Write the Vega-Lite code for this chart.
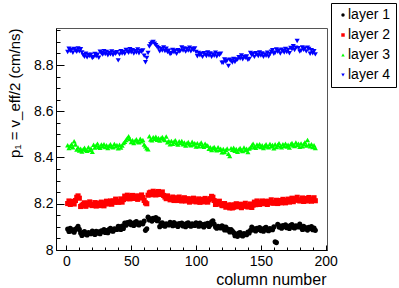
{
  "$schema": "https://vega.github.io/schema/vega-lite/v6.json",
  "width": 271,
  "height": 222,
  "autosize": {"type": "none"},
  "padding": {"left": 56, "top": 28, "right": 72, "bottom": 38},
  "background": "white",
  "config": {
    "font": "Liberation Sans",
    "view": {"stroke": "#555555", "strokeWidth": 1},
    "axis": {"grid": false, "domainColor": "#000000", "tickColor": "#000000", "labelColor": "#000000", "titleColor": "#000000", "labelFont": "Liberation Sans", "titleFont": "Liberation Sans", "titleFontWeight": "normal"}
  },
  "datasets": {
    "pts": [
      {"c":1,"s":"layer 1","p":8.091},{"c":2,"s":"layer 1","p":8.080},{"c":3,"s":"layer 1","p":8.094},{"c":4,"s":"layer 1","p":8.082},{"c":5,"s":"layer 1","p":8.087},{"c":6,"s":"layer 1","p":8.077},{"c":7,"s":"layer 1","p":8.089},{"c":8,"s":"layer 1","p":8.094},{"c":9,"s":"layer 1","p":8.102},{"c":10,"s":"layer 1","p":8.089},
      {"c":11,"s":"layer 1","p":8.073},{"c":12,"s":"layer 1","p":8.063},{"c":13,"s":"layer 1","p":8.077},{"c":14,"s":"layer 1","p":8.080},{"c":15,"s":"layer 1","p":8.068},{"c":16,"s":"layer 1","p":8.065},{"c":17,"s":"layer 1","p":8.075},{"c":18,"s":"layer 1","p":8.072},{"c":19,"s":"layer 1","p":8.070},{"c":20,"s":"layer 1","p":8.082},
      {"c":21,"s":"layer 1","p":8.078},{"c":22,"s":"layer 1","p":8.067},{"c":23,"s":"layer 1","p":8.081},{"c":24,"s":"layer 1","p":8.073},{"c":25,"s":"layer 1","p":8.079},{"c":26,"s":"layer 1","p":8.070},{"c":27,"s":"layer 1","p":8.083},{"c":28,"s":"layer 1","p":8.079},{"c":29,"s":"layer 1","p":8.088},{"c":30,"s":"layer 1","p":8.076},
      {"c":31,"s":"layer 1","p":8.084},{"c":32,"s":"layer 1","p":8.075},{"c":33,"s":"layer 1","p":8.090},{"c":34,"s":"layer 1","p":8.094},{"c":35,"s":"layer 1","p":8.083},{"c":36,"s":"layer 1","p":8.081},{"c":37,"s":"layer 1","p":8.092},{"c":38,"s":"layer 1","p":8.090},{"c":39,"s":"layer 1","p":8.089},{"c":40,"s":"layer 1","p":8.102},
      {"c":41,"s":"layer 1","p":8.099},{"c":42,"s":"layer 1","p":8.089},{"c":43,"s":"layer 1","p":8.104},{"c":44,"s":"layer 1","p":8.093},{"c":45,"s":"layer 1","p":8.117},{"c":46,"s":"layer 1","p":8.107},{"c":47,"s":"layer 1","p":8.119},{"c":48,"s":"layer 1","p":8.114},{"c":49,"s":"layer 1","p":8.122},{"c":50,"s":"layer 1","p":8.109},
      {"c":51,"s":"layer 1","p":8.116},{"c":52,"s":"layer 1","p":8.106},{"c":53,"s":"layer 1","p":8.120},{"c":54,"s":"layer 1","p":8.123},{"c":55,"s":"layer 1","p":8.111},{"c":56,"s":"layer 1","p":8.108},{"c":57,"s":"layer 1","p":8.118},{"c":58,"s":"layer 1","p":8.115},{"c":59,"s":"layer 1","p":8.113},{"c":60,"s":"layer 1","p":8.125},
      {"c":61,"s":"layer 1","p":8.085},{"c":62,"s":"layer 1","p":8.092},{"c":63,"s":"layer 1","p":8.142},{"c":64,"s":"layer 1","p":8.130},{"c":65,"s":"layer 1","p":8.135},{"c":66,"s":"layer 1","p":8.125},{"c":67,"s":"layer 1","p":8.137},{"c":68,"s":"layer 1","p":8.132},{"c":69,"s":"layer 1","p":8.140},{"c":70,"s":"layer 1","p":8.127},
      {"c":71,"s":"layer 1","p":8.134},{"c":72,"s":"layer 1","p":8.101},{"c":73,"s":"layer 1","p":8.115},{"c":74,"s":"layer 1","p":8.118},{"c":75,"s":"layer 1","p":8.106},{"c":76,"s":"layer 1","p":8.103},{"c":77,"s":"layer 1","p":8.113},{"c":78,"s":"layer 1","p":8.110},{"c":79,"s":"layer 1","p":8.108},{"c":80,"s":"layer 1","p":8.120},
      {"c":81,"s":"layer 1","p":8.116},{"c":82,"s":"layer 1","p":8.105},{"c":83,"s":"layer 1","p":8.119},{"c":84,"s":"layer 1","p":8.107},{"c":85,"s":"layer 1","p":8.112},{"c":86,"s":"layer 1","p":8.102},{"c":87,"s":"layer 1","p":8.114},{"c":88,"s":"layer 1","p":8.109},{"c":89,"s":"layer 1","p":8.117},{"c":90,"s":"layer 1","p":8.104},
      {"c":91,"s":"layer 1","p":8.111},{"c":92,"s":"layer 1","p":8.101},{"c":93,"s":"layer 1","p":8.115},{"c":94,"s":"layer 1","p":8.118},{"c":95,"s":"layer 1","p":8.106},{"c":96,"s":"layer 1","p":8.103},{"c":97,"s":"layer 1","p":8.113},{"c":98,"s":"layer 1","p":8.108},{"c":99,"s":"layer 1","p":8.106},{"c":100,"s":"layer 1","p":8.118},
      {"c":101,"s":"layer 1","p":8.114},{"c":102,"s":"layer 1","p":8.103},{"c":103,"s":"layer 1","p":8.117},{"c":104,"s":"layer 1","p":8.105},{"c":105,"s":"layer 1","p":8.110},{"c":106,"s":"layer 1","p":8.100},{"c":107,"s":"layer 1","p":8.112},{"c":108,"s":"layer 1","p":8.107},{"c":109,"s":"layer 1","p":8.115},{"c":110,"s":"layer 1","p":8.102},
      {"c":111,"s":"layer 1","p":8.109},{"c":112,"s":"layer 1","p":8.122},{"c":113,"s":"layer 1","p":8.126},{"c":114,"s":"layer 1","p":8.112},{"c":115,"s":"layer 1","p":8.099},{"c":116,"s":"layer 1","p":8.094},{"c":117,"s":"layer 1","p":8.102},{"c":118,"s":"layer 1","p":8.098},{"c":119,"s":"layer 1","p":8.095},{"c":120,"s":"layer 1","p":8.105},
      {"c":121,"s":"layer 1","p":8.100},{"c":122,"s":"layer 1","p":8.087},{"c":123,"s":"layer 1","p":8.099},{"c":124,"s":"layer 1","p":8.086},{"c":125,"s":"layer 1","p":8.089},{"c":126,"s":"layer 1","p":8.078},{"c":127,"s":"layer 1","p":8.088},{"c":128,"s":"layer 1","p":8.082},{"c":129,"s":"layer 1","p":8.075},{"c":130,"s":"layer 1","p":8.062},
      {"c":131,"s":"layer 1","p":8.069},{"c":132,"s":"layer 1","p":8.059},{"c":133,"s":"layer 1","p":8.073},{"c":134,"s":"layer 1","p":8.076},{"c":135,"s":"layer 1","p":8.064},{"c":136,"s":"layer 1","p":8.061},{"c":137,"s":"layer 1","p":8.071},{"c":138,"s":"layer 1","p":8.068},{"c":139,"s":"layer 1","p":8.066},{"c":140,"s":"layer 1","p":8.078},
      {"c":141,"s":"layer 1","p":8.074},{"c":142,"s":"layer 1","p":8.085},{"c":143,"s":"layer 1","p":8.099},{"c":144,"s":"layer 1","p":8.087},{"c":145,"s":"layer 1","p":8.092},{"c":146,"s":"layer 1","p":8.082},{"c":147,"s":"layer 1","p":8.094},{"c":148,"s":"layer 1","p":8.089},{"c":149,"s":"layer 1","p":8.097},{"c":150,"s":"layer 1","p":8.084},
      {"c":151,"s":"layer 1","p":8.091},{"c":152,"s":"layer 1","p":8.081},{"c":153,"s":"layer 1","p":8.095},{"c":154,"s":"layer 1","p":8.098},{"c":155,"s":"layer 1","p":8.086},{"c":156,"s":"layer 1","p":8.083},{"c":157,"s":"layer 1","p":8.093},{"c":158,"s":"layer 1","p":8.090},{"c":159,"s":"layer 1","p":8.088},{"c":160,"s":"layer 1","p":8.100},
      {"c":161,"s":"layer 1","p":8.036},{"c":162,"s":"layer 1","p":8.032},{"c":163,"s":"layer 1","p":8.111},{"c":164,"s":"layer 1","p":8.099},{"c":165,"s":"layer 1","p":8.104},{"c":166,"s":"layer 1","p":8.094},{"c":167,"s":"layer 1","p":8.106},{"c":168,"s":"layer 1","p":8.101},{"c":169,"s":"layer 1","p":8.109},{"c":170,"s":"layer 1","p":8.096},
      {"c":171,"s":"layer 1","p":8.103},{"c":172,"s":"layer 1","p":8.093},{"c":173,"s":"layer 1","p":8.107},{"c":174,"s":"layer 1","p":8.110},{"c":175,"s":"layer 1","p":8.098},{"c":176,"s":"layer 1","p":8.095},{"c":177,"s":"layer 1","p":8.105},{"c":178,"s":"layer 1","p":8.102},{"c":179,"s":"layer 1","p":8.100},{"c":180,"s":"layer 1","p":8.112},
      {"c":181,"s":"layer 1","p":8.100},{"c":182,"s":"layer 1","p":8.089},{"c":183,"s":"layer 1","p":8.103},{"c":184,"s":"layer 1","p":8.091},{"c":185,"s":"layer 1","p":8.096},{"c":186,"s":"layer 1","p":8.086},{"c":187,"s":"layer 1","p":8.098},{"c":188,"s":"layer 1","p":8.093},{"c":189,"s":"layer 1","p":8.101},{"c":190,"s":"layer 1","p":8.088},
      {"c":191,"s":"layer 1","p":8.095},{"c":192,"s":"layer 1","p":8.085},

      {"c":1,"s":"layer 2","p":8.201},{"c":2,"s":"layer 2","p":8.212},{"c":3,"s":"layer 2","p":8.197},{"c":4,"s":"layer 2","p":8.207},{"c":5,"s":"layer 2","p":8.210},{"c":6,"s":"layer 2","p":8.199},{"c":7,"s":"layer 2","p":8.214},{"c":8,"s":"layer 2","p":8.228},{"c":9,"s":"layer 2","p":8.234},{"c":10,"s":"layer 2","p":8.224},
      {"c":11,"s":"layer 2","p":8.188},{"c":12,"s":"layer 2","p":8.193},{"c":13,"s":"layer 2","p":8.198},{"c":14,"s":"layer 2","p":8.204},{"c":15,"s":"layer 2","p":8.189},{"c":16,"s":"layer 2","p":8.202},{"c":17,"s":"layer 2","p":8.195},{"c":18,"s":"layer 2","p":8.208},{"c":19,"s":"layer 2","p":8.197},{"c":20,"s":"layer 2","p":8.192},
      {"c":21,"s":"layer 2","p":8.194},{"c":22,"s":"layer 2","p":8.205},{"c":23,"s":"layer 2","p":8.190},{"c":24,"s":"layer 2","p":8.200},{"c":25,"s":"layer 2","p":8.203},{"c":26,"s":"layer 2","p":8.192},{"c":27,"s":"layer 2","p":8.207},{"c":28,"s":"layer 2","p":8.196},{"c":29,"s":"layer 2","p":8.191},{"c":30,"s":"layer 2","p":8.201},
      {"c":31,"s":"layer 2","p":8.211},{"c":32,"s":"layer 2","p":8.199},{"c":33,"s":"layer 2","p":8.205},{"c":34,"s":"layer 2","p":8.212},{"c":35,"s":"layer 2","p":8.198},{"c":36,"s":"layer 2","p":8.212},{"c":37,"s":"layer 2","p":8.206},{"c":38,"s":"layer 2","p":8.220},{"c":39,"s":"layer 2","p":8.210},{"c":40,"s":"layer 2","p":8.206},
      {"c":41,"s":"layer 2","p":8.209},{"c":42,"s":"layer 2","p":8.221},{"c":43,"s":"layer 2","p":8.207},{"c":44,"s":"layer 2","p":8.218},{"c":45,"s":"layer 2","p":8.233},{"c":46,"s":"layer 2","p":8.222},{"c":47,"s":"layer 2","p":8.237},{"c":48,"s":"layer 2","p":8.226},{"c":49,"s":"layer 2","p":8.221},{"c":50,"s":"layer 2","p":8.231},
      {"c":51,"s":"layer 2","p":8.236},{"c":52,"s":"layer 2","p":8.223},{"c":53,"s":"layer 2","p":8.228},{"c":54,"s":"layer 2","p":8.234},{"c":55,"s":"layer 2","p":8.219},{"c":56,"s":"layer 2","p":8.232},{"c":57,"s":"layer 2","p":8.225},{"c":58,"s":"layer 2","p":8.238},{"c":59,"s":"layer 2","p":8.227},{"c":60,"s":"layer 2","p":8.214},
      {"c":61,"s":"layer 2","p":8.204},{"c":62,"s":"layer 2","p":8.200},{"c":63,"s":"layer 2","p":8.237},{"c":64,"s":"layer 2","p":8.247},{"c":65,"s":"layer 2","p":8.250},{"c":66,"s":"layer 2","p":8.239},{"c":67,"s":"layer 2","p":8.254},{"c":68,"s":"layer 2","p":8.243},{"c":69,"s":"layer 2","p":8.238},{"c":70,"s":"layer 2","p":8.248},
      {"c":71,"s":"layer 2","p":8.253},{"c":72,"s":"layer 2","p":8.240},{"c":73,"s":"layer 2","p":8.245},{"c":74,"s":"layer 2","p":8.251},{"c":75,"s":"layer 2","p":8.236},{"c":76,"s":"layer 2","p":8.229},{"c":77,"s":"layer 2","p":8.222},{"c":78,"s":"layer 2","p":8.234},{"c":79,"s":"layer 2","p":8.223},{"c":80,"s":"layer 2","p":8.217},
      {"c":81,"s":"layer 2","p":8.219},{"c":82,"s":"layer 2","p":8.229},{"c":83,"s":"layer 2","p":8.214},{"c":84,"s":"layer 2","p":8.223},{"c":85,"s":"layer 2","p":8.226},{"c":86,"s":"layer 2","p":8.214},{"c":87,"s":"layer 2","p":8.229},{"c":88,"s":"layer 2","p":8.217},{"c":89,"s":"layer 2","p":8.212},{"c":90,"s":"layer 2","p":8.221},
      {"c":91,"s":"layer 2","p":8.226},{"c":92,"s":"layer 2","p":8.212},{"c":93,"s":"layer 2","p":8.217},{"c":94,"s":"layer 2","p":8.222},{"c":95,"s":"layer 2","p":8.207},{"c":96,"s":"layer 2","p":8.218},{"c":97,"s":"layer 2","p":8.211},{"c":98,"s":"layer 2","p":8.224},{"c":99,"s":"layer 2","p":8.213},{"c":100,"s":"layer 2","p":8.208},
      {"c":101,"s":"layer 2","p":8.210},{"c":102,"s":"layer 2","p":8.221},{"c":103,"s":"layer 2","p":8.206},{"c":104,"s":"layer 2","p":8.216},{"c":105,"s":"layer 2","p":8.219},{"c":106,"s":"layer 2","p":8.208},{"c":107,"s":"layer 2","p":8.223},{"c":108,"s":"layer 2","p":8.212},{"c":109,"s":"layer 2","p":8.207},{"c":110,"s":"layer 2","p":8.217},
      {"c":111,"s":"layer 2","p":8.222},{"c":112,"s":"layer 2","p":8.232},{"c":113,"s":"layer 2","p":8.228},{"c":114,"s":"layer 2","p":8.214},{"c":115,"s":"layer 2","p":8.197},{"c":116,"s":"layer 2","p":8.209},{"c":117,"s":"layer 2","p":8.200},{"c":118,"s":"layer 2","p":8.211},{"c":119,"s":"layer 2","p":8.198},{"c":120,"s":"layer 2","p":8.192},
      {"c":121,"s":"layer 2","p":8.192},{"c":122,"s":"layer 2","p":8.201},{"c":123,"s":"layer 2","p":8.185},{"c":124,"s":"layer 2","p":8.193},{"c":125,"s":"layer 2","p":8.194},{"c":126,"s":"layer 2","p":8.182},{"c":127,"s":"layer 2","p":8.195},{"c":128,"s":"layer 2","p":8.182},{"c":129,"s":"layer 2","p":8.185},{"c":130,"s":"layer 2","p":8.195},
      {"c":131,"s":"layer 2","p":8.200},{"c":132,"s":"layer 2","p":8.187},{"c":133,"s":"layer 2","p":8.192},{"c":134,"s":"layer 2","p":8.198},{"c":135,"s":"layer 2","p":8.183},{"c":136,"s":"layer 2","p":8.196},{"c":137,"s":"layer 2","p":8.189},{"c":138,"s":"layer 2","p":8.202},{"c":139,"s":"layer 2","p":8.191},{"c":140,"s":"layer 2","p":8.186},
      {"c":141,"s":"layer 2","p":8.188},{"c":142,"s":"layer 2","p":8.199},{"c":143,"s":"layer 2","p":8.184},{"c":144,"s":"layer 2","p":8.194},{"c":145,"s":"layer 2","p":8.207},{"c":146,"s":"layer 2","p":8.196},{"c":147,"s":"layer 2","p":8.212},{"c":148,"s":"layer 2","p":8.201},{"c":149,"s":"layer 2","p":8.197},{"c":150,"s":"layer 2","p":8.207},
      {"c":151,"s":"layer 2","p":8.212},{"c":152,"s":"layer 2","p":8.200},{"c":153,"s":"layer 2","p":8.205},{"c":154,"s":"layer 2","p":8.211},{"c":155,"s":"layer 2","p":8.197},{"c":156,"s":"layer 2","p":8.210},{"c":157,"s":"layer 2","p":8.203},{"c":158,"s":"layer 2","p":8.217},{"c":159,"s":"layer 2","p":8.206},{"c":160,"s":"layer 2","p":8.202},
      {"c":161,"s":"layer 2","p":8.204},{"c":162,"s":"layer 2","p":8.215},{"c":163,"s":"layer 2","p":8.201},{"c":164,"s":"layer 2","p":8.211},{"c":165,"s":"layer 2","p":8.214},{"c":166,"s":"layer 2","p":8.204},{"c":167,"s":"layer 2","p":8.219},{"c":168,"s":"layer 2","p":8.208},{"c":169,"s":"layer 2","p":8.204},{"c":170,"s":"layer 2","p":8.214},
      {"c":171,"s":"layer 2","p":8.220},{"c":172,"s":"layer 2","p":8.207},{"c":173,"s":"layer 2","p":8.218},{"c":174,"s":"layer 2","p":8.224},{"c":175,"s":"layer 2","p":8.209},{"c":176,"s":"layer 2","p":8.222},{"c":177,"s":"layer 2","p":8.215},{"c":178,"s":"layer 2","p":8.228},{"c":179,"s":"layer 2","p":8.217},{"c":180,"s":"layer 2","p":8.212},
      {"c":181,"s":"layer 2","p":8.214},{"c":182,"s":"layer 2","p":8.225},{"c":183,"s":"layer 2","p":8.210},{"c":184,"s":"layer 2","p":8.220},{"c":185,"s":"layer 2","p":8.223},{"c":186,"s":"layer 2","p":8.212},{"c":187,"s":"layer 2","p":8.227},{"c":188,"s":"layer 2","p":8.216},{"c":189,"s":"layer 2","p":8.211},{"c":190,"s":"layer 2","p":8.221},
      {"c":191,"s":"layer 2","p":8.226},{"c":192,"s":"layer 2","p":8.213},

      {"c":1,"s":"layer 3","p":8.453},{"c":2,"s":"layer 3","p":8.441},{"c":3,"s":"layer 3","p":8.450},{"c":4,"s":"layer 3","p":8.458},{"c":5,"s":"layer 3","p":8.444},{"c":6,"s":"layer 3","p":8.470},{"c":7,"s":"layer 3","p":8.456},{"c":8,"s":"layer 3","p":8.434},{"c":9,"s":"layer 3","p":8.443},{"c":10,"s":"layer 3","p":8.430},
      {"c":11,"s":"layer 3","p":8.438},{"c":12,"s":"layer 3","p":8.426},{"c":13,"s":"layer 3","p":8.436},{"c":14,"s":"layer 3","p":8.442},{"c":15,"s":"layer 3","p":8.432},{"c":16,"s":"layer 3","p":8.429},{"c":17,"s":"layer 3","p":8.444},{"c":18,"s":"layer 3","p":8.433},{"c":19,"s":"layer 3","p":8.439},{"c":20,"s":"layer 3","p":8.425},
      {"c":21,"s":"layer 3","p":8.455},{"c":22,"s":"layer 3","p":8.443},{"c":23,"s":"layer 3","p":8.452},{"c":24,"s":"layer 3","p":8.460},{"c":25,"s":"layer 3","p":8.446},{"c":26,"s":"layer 3","p":8.442},{"c":27,"s":"layer 3","p":8.456},{"c":28,"s":"layer 3","p":8.449},{"c":29,"s":"layer 3","p":8.458},{"c":30,"s":"layer 3","p":8.445},
      {"c":31,"s":"layer 3","p":8.453},{"c":32,"s":"layer 3","p":8.441},{"c":33,"s":"layer 3","p":8.451},{"c":34,"s":"layer 3","p":8.457},{"c":35,"s":"layer 3","p":8.447},{"c":36,"s":"layer 3","p":8.444},{"c":37,"s":"layer 3","p":8.459},{"c":38,"s":"layer 3","p":8.448},{"c":39,"s":"layer 3","p":8.454},{"c":40,"s":"layer 3","p":8.440},
      {"c":41,"s":"layer 3","p":8.455},{"c":42,"s":"layer 3","p":8.443},{"c":43,"s":"layer 3","p":8.452},{"c":44,"s":"layer 3","p":8.462},{"c":45,"s":"layer 3","p":8.468},{"c":46,"s":"layer 3","p":8.476},{"c":47,"s":"layer 3","p":8.484},{"c":48,"s":"layer 3","p":8.492},{"c":49,"s":"layer 3","p":8.480},{"c":50,"s":"layer 3","p":8.467},
      {"c":51,"s":"layer 3","p":8.475},{"c":52,"s":"layer 3","p":8.463},{"c":53,"s":"layer 3","p":8.473},{"c":54,"s":"layer 3","p":8.479},{"c":55,"s":"layer 3","p":8.469},{"c":56,"s":"layer 3","p":8.466},{"c":57,"s":"layer 3","p":8.481},{"c":58,"s":"layer 3","p":8.470},{"c":59,"s":"layer 3","p":8.476},{"c":60,"s":"layer 3","p":8.456},
      {"c":61,"s":"layer 3","p":8.448},{"c":62,"s":"layer 3","p":8.440},{"c":63,"s":"layer 3","p":8.436},{"c":64,"s":"layer 3","p":8.492},{"c":65,"s":"layer 3","p":8.478},{"c":66,"s":"layer 3","p":8.474},{"c":67,"s":"layer 3","p":8.488},{"c":68,"s":"layer 3","p":8.481},{"c":69,"s":"layer 3","p":8.490},{"c":70,"s":"layer 3","p":8.477},
      {"c":71,"s":"layer 3","p":8.485},{"c":72,"s":"layer 3","p":8.473},{"c":73,"s":"layer 3","p":8.483},{"c":74,"s":"layer 3","p":8.489},{"c":75,"s":"layer 3","p":8.479},{"c":76,"s":"layer 3","p":8.476},{"c":77,"s":"layer 3","p":8.491},{"c":78,"s":"layer 3","p":8.466},{"c":79,"s":"layer 3","p":8.472},{"c":80,"s":"layer 3","p":8.457},
      {"c":81,"s":"layer 3","p":8.472},{"c":82,"s":"layer 3","p":8.459},{"c":83,"s":"layer 3","p":8.468},{"c":84,"s":"layer 3","p":8.475},{"c":85,"s":"layer 3","p":8.461},{"c":86,"s":"layer 3","p":8.456},{"c":87,"s":"layer 3","p":8.470},{"c":88,"s":"layer 3","p":8.462},{"c":89,"s":"layer 3","p":8.471},{"c":90,"s":"layer 3","p":8.457},
      {"c":91,"s":"layer 3","p":8.465},{"c":92,"s":"layer 3","p":8.452},{"c":93,"s":"layer 3","p":8.462},{"c":94,"s":"layer 3","p":8.467},{"c":95,"s":"layer 3","p":8.457},{"c":96,"s":"layer 3","p":8.453},{"c":97,"s":"layer 3","p":8.468},{"c":98,"s":"layer 3","p":8.456},{"c":99,"s":"layer 3","p":8.462},{"c":100,"s":"layer 3","p":8.447},
      {"c":101,"s":"layer 3","p":8.462},{"c":102,"s":"layer 3","p":8.449},{"c":103,"s":"layer 3","p":8.458},{"c":104,"s":"layer 3","p":8.465},{"c":105,"s":"layer 3","p":8.451},{"c":106,"s":"layer 3","p":8.446},{"c":107,"s":"layer 3","p":8.460},{"c":108,"s":"layer 3","p":8.452},{"c":109,"s":"layer 3","p":8.452},{"c":110,"s":"layer 3","p":8.438},
      {"c":111,"s":"layer 3","p":8.445},{"c":112,"s":"layer 3","p":8.432},{"c":113,"s":"layer 3","p":8.441},{"c":114,"s":"layer 3","p":8.446},{"c":115,"s":"layer 3","p":8.435},{"c":116,"s":"layer 3","p":8.431},{"c":117,"s":"layer 3","p":8.445},{"c":118,"s":"layer 3","p":8.433},{"c":119,"s":"layer 3","p":8.438},{"c":120,"s":"layer 3","p":8.423},
      {"c":121,"s":"layer 3","p":8.437},{"c":122,"s":"layer 3","p":8.424},{"c":123,"s":"layer 3","p":8.432},{"c":124,"s":"layer 3","p":8.439},{"c":125,"s":"layer 3","p":8.416},{"c":126,"s":"layer 3","p":8.406},{"c":127,"s":"layer 3","p":8.440},{"c":128,"s":"layer 3","p":8.433},{"c":129,"s":"layer 3","p":8.442},{"c":130,"s":"layer 3","p":8.429},
      {"c":131,"s":"layer 3","p":8.437},{"c":132,"s":"layer 3","p":8.425},{"c":133,"s":"layer 3","p":8.435},{"c":134,"s":"layer 3","p":8.441},{"c":135,"s":"layer 3","p":8.431},{"c":136,"s":"layer 3","p":8.428},{"c":137,"s":"layer 3","p":8.443},{"c":138,"s":"layer 3","p":8.432},{"c":139,"s":"layer 3","p":8.438},{"c":140,"s":"layer 3","p":8.424},
      {"c":141,"s":"layer 3","p":8.439},{"c":142,"s":"layer 3","p":8.443},{"c":143,"s":"layer 3","p":8.452},{"c":144,"s":"layer 3","p":8.460},{"c":145,"s":"layer 3","p":8.446},{"c":146,"s":"layer 3","p":8.442},{"c":147,"s":"layer 3","p":8.456},{"c":148,"s":"layer 3","p":8.449},{"c":149,"s":"layer 3","p":8.458},{"c":150,"s":"layer 3","p":8.445},
      {"c":151,"s":"layer 3","p":8.453},{"c":152,"s":"layer 3","p":8.441},{"c":153,"s":"layer 3","p":8.451},{"c":154,"s":"layer 3","p":8.457},{"c":155,"s":"layer 3","p":8.447},{"c":156,"s":"layer 3","p":8.444},{"c":157,"s":"layer 3","p":8.459},{"c":158,"s":"layer 3","p":8.448},{"c":159,"s":"layer 3","p":8.454},{"c":160,"s":"layer 3","p":8.440},
      {"c":161,"s":"layer 3","p":8.457},{"c":162,"s":"layer 3","p":8.445},{"c":163,"s":"layer 3","p":8.454},{"c":164,"s":"layer 3","p":8.462},{"c":165,"s":"layer 3","p":8.448},{"c":166,"s":"layer 3","p":8.444},{"c":167,"s":"layer 3","p":8.458},{"c":168,"s":"layer 3","p":8.451},{"c":169,"s":"layer 3","p":8.460},{"c":170,"s":"layer 3","p":8.447},
      {"c":171,"s":"layer 3","p":8.455},{"c":172,"s":"layer 3","p":8.443},{"c":173,"s":"layer 3","p":8.457},{"c":174,"s":"layer 3","p":8.463},{"c":175,"s":"layer 3","p":8.453},{"c":176,"s":"layer 3","p":8.450},{"c":177,"s":"layer 3","p":8.465},{"c":178,"s":"layer 3","p":8.454},{"c":179,"s":"layer 3","p":8.460},{"c":180,"s":"layer 3","p":8.446},
      {"c":181,"s":"layer 3","p":8.461},{"c":182,"s":"layer 3","p":8.449},{"c":183,"s":"layer 3","p":8.458},{"c":184,"s":"layer 3","p":8.466},{"c":185,"s":"layer 3","p":8.452},{"c":186,"s":"layer 3","p":8.476},{"c":187,"s":"layer 3","p":8.456},{"c":188,"s":"layer 3","p":8.449},{"c":189,"s":"layer 3","p":8.458},{"c":190,"s":"layer 3","p":8.445},
      {"c":191,"s":"layer 3","p":8.453},{"c":192,"s":"layer 3","p":8.441},

      {"c":1,"s":"layer 4","p":8.856},{"c":2,"s":"layer 4","p":8.870},{"c":3,"s":"layer 4","p":8.860},{"c":4,"s":"layer 4","p":8.866},{"c":5,"s":"layer 4","p":8.853},{"c":6,"s":"layer 4","p":8.869},{"c":7,"s":"layer 4","p":8.863},{"c":8,"s":"layer 4","p":8.857},{"c":9,"s":"layer 4","p":8.872},{"c":10,"s":"layer 4","p":8.859},
      {"c":11,"s":"layer 4","p":8.868},{"c":12,"s":"layer 4","p":8.854},{"c":13,"s":"layer 4","p":8.842},{"c":14,"s":"layer 4","p":8.836},{"c":15,"s":"layer 4","p":8.849},{"c":16,"s":"layer 4","p":8.833},{"c":17,"s":"layer 4","p":8.843},{"c":18,"s":"layer 4","p":8.839},{"c":19,"s":"layer 4","p":8.845},{"c":20,"s":"layer 4","p":8.830},
      {"c":21,"s":"layer 4","p":8.834},{"c":22,"s":"layer 4","p":8.848},{"c":23,"s":"layer 4","p":8.838},{"c":24,"s":"layer 4","p":8.844},{"c":25,"s":"layer 4","p":8.831},{"c":26,"s":"layer 4","p":8.857},{"c":27,"s":"layer 4","p":8.851},{"c":28,"s":"layer 4","p":8.845},{"c":29,"s":"layer 4","p":8.860},{"c":30,"s":"layer 4","p":8.847},
      {"c":31,"s":"layer 4","p":8.856},{"c":32,"s":"layer 4","p":8.842},{"c":33,"s":"layer 4","p":8.852},{"c":34,"s":"layer 4","p":8.846},{"c":35,"s":"layer 4","p":8.859},{"c":36,"s":"layer 4","p":8.843},{"c":37,"s":"layer 4","p":8.853},{"c":38,"s":"layer 4","p":8.849},{"c":39,"s":"layer 4","p":8.855},{"c":40,"s":"layer 4","p":8.820},
      {"c":41,"s":"layer 4","p":8.846},{"c":42,"s":"layer 4","p":8.860},{"c":43,"s":"layer 4","p":8.850},{"c":44,"s":"layer 4","p":8.856},{"c":45,"s":"layer 4","p":8.849},{"c":46,"s":"layer 4","p":8.865},{"c":47,"s":"layer 4","p":8.859},{"c":48,"s":"layer 4","p":8.853},{"c":49,"s":"layer 4","p":8.868},{"c":50,"s":"layer 4","p":8.855},
      {"c":51,"s":"layer 4","p":8.864},{"c":52,"s":"layer 4","p":8.850},{"c":53,"s":"layer 4","p":8.860},{"c":54,"s":"layer 4","p":8.854},{"c":55,"s":"layer 4","p":8.867},{"c":56,"s":"layer 4","p":8.851},{"c":57,"s":"layer 4","p":8.861},{"c":58,"s":"layer 4","p":8.857},{"c":59,"s":"layer 4","p":8.863},{"c":60,"s":"layer 4","p":8.840},
      {"c":61,"s":"layer 4","p":8.812},{"c":62,"s":"layer 4","p":8.830},{"c":63,"s":"layer 4","p":8.852},{"c":64,"s":"layer 4","p":8.880},{"c":65,"s":"layer 4","p":8.890},{"c":66,"s":"layer 4","p":8.896},{"c":67,"s":"layer 4","p":8.900},{"c":68,"s":"layer 4","p":8.892},{"c":69,"s":"layer 4","p":8.886},{"c":70,"s":"layer 4","p":8.878},
      {"c":71,"s":"layer 4","p":8.873},{"c":72,"s":"layer 4","p":8.859},{"c":73,"s":"layer 4","p":8.869},{"c":74,"s":"layer 4","p":8.863},{"c":75,"s":"layer 4","p":8.876},{"c":76,"s":"layer 4","p":8.860},{"c":77,"s":"layer 4","p":8.870},{"c":78,"s":"layer 4","p":8.856},{"c":79,"s":"layer 4","p":8.862},{"c":80,"s":"layer 4","p":8.847},
      {"c":81,"s":"layer 4","p":8.851},{"c":82,"s":"layer 4","p":8.865},{"c":83,"s":"layer 4","p":8.855},{"c":84,"s":"layer 4","p":8.861},{"c":85,"s":"layer 4","p":8.848},{"c":86,"s":"layer 4","p":8.864},{"c":87,"s":"layer 4","p":8.858},{"c":88,"s":"layer 4","p":8.861},{"c":89,"s":"layer 4","p":8.876},{"c":90,"s":"layer 4","p":8.863},
      {"c":91,"s":"layer 4","p":8.872},{"c":92,"s":"layer 4","p":8.858},{"c":93,"s":"layer 4","p":8.868},{"c":94,"s":"layer 4","p":8.862},{"c":95,"s":"layer 4","p":8.875},{"c":96,"s":"layer 4","p":8.859},{"c":97,"s":"layer 4","p":8.869},{"c":98,"s":"layer 4","p":8.865},{"c":99,"s":"layer 4","p":8.871},{"c":100,"s":"layer 4","p":8.856},
      {"c":101,"s":"layer 4","p":8.838},{"c":102,"s":"layer 4","p":8.852},{"c":103,"s":"layer 4","p":8.842},{"c":104,"s":"layer 4","p":8.848},{"c":105,"s":"layer 4","p":8.835},{"c":106,"s":"layer 4","p":8.851},{"c":107,"s":"layer 4","p":8.845},{"c":108,"s":"layer 4","p":8.839},{"c":109,"s":"layer 4","p":8.854},{"c":110,"s":"layer 4","p":8.841},
      {"c":111,"s":"layer 4","p":8.850},{"c":112,"s":"layer 4","p":8.836},{"c":113,"s":"layer 4","p":8.846},{"c":114,"s":"layer 4","p":8.840},{"c":115,"s":"layer 4","p":8.853},{"c":116,"s":"layer 4","p":8.837},{"c":117,"s":"layer 4","p":8.847},{"c":118,"s":"layer 4","p":8.843},{"c":119,"s":"layer 4","p":8.849},{"c":120,"s":"layer 4","p":8.810},
      {"c":121,"s":"layer 4","p":8.810},{"c":122,"s":"layer 4","p":8.824},{"c":123,"s":"layer 4","p":8.814},{"c":124,"s":"layer 4","p":8.820},{"c":125,"s":"layer 4","p":8.796},{"c":126,"s":"layer 4","p":8.823},{"c":127,"s":"layer 4","p":8.817},{"c":128,"s":"layer 4","p":8.811},{"c":129,"s":"layer 4","p":8.826},{"c":130,"s":"layer 4","p":8.813},
      {"c":131,"s":"layer 4","p":8.822},{"c":132,"s":"layer 4","p":8.824},{"c":133,"s":"layer 4","p":8.834},{"c":134,"s":"layer 4","p":8.828},{"c":135,"s":"layer 4","p":8.841},{"c":136,"s":"layer 4","p":8.825},{"c":137,"s":"layer 4","p":8.835},{"c":138,"s":"layer 4","p":8.831},{"c":139,"s":"layer 4","p":8.837},{"c":140,"s":"layer 4","p":8.822},
      {"c":141,"s":"layer 4","p":8.826},{"c":142,"s":"layer 4","p":8.852},{"c":143,"s":"layer 4","p":8.842},{"c":144,"s":"layer 4","p":8.848},{"c":145,"s":"layer 4","p":8.835},{"c":146,"s":"layer 4","p":8.851},{"c":147,"s":"layer 4","p":8.845},{"c":148,"s":"layer 4","p":8.839},{"c":149,"s":"layer 4","p":8.854},{"c":150,"s":"layer 4","p":8.841},
      {"c":151,"s":"layer 4","p":8.850},{"c":152,"s":"layer 4","p":8.836},{"c":153,"s":"layer 4","p":8.846},{"c":154,"s":"layer 4","p":8.840},{"c":155,"s":"layer 4","p":8.853},{"c":156,"s":"layer 4","p":8.837},{"c":157,"s":"layer 4","p":8.847},{"c":158,"s":"layer 4","p":8.858},{"c":159,"s":"layer 4","p":8.864},{"c":160,"s":"layer 4","p":8.849},
      {"c":161,"s":"layer 4","p":8.853},{"c":162,"s":"layer 4","p":8.867},{"c":163,"s":"layer 4","p":8.857},{"c":164,"s":"layer 4","p":8.863},{"c":165,"s":"layer 4","p":8.850},{"c":166,"s":"layer 4","p":8.866},{"c":167,"s":"layer 4","p":8.860},{"c":168,"s":"layer 4","p":8.854},{"c":169,"s":"layer 4","p":8.869},{"c":170,"s":"layer 4","p":8.856},
      {"c":171,"s":"layer 4","p":8.865},{"c":172,"s":"layer 4","p":8.851},{"c":173,"s":"layer 4","p":8.874},{"c":174,"s":"layer 4","p":8.868},{"c":175,"s":"layer 4","p":8.881},{"c":176,"s":"layer 4","p":8.865},{"c":177,"s":"layer 4","p":8.875},{"c":178,"s":"layer 4","p":8.904},{"c":179,"s":"layer 4","p":8.873},{"c":180,"s":"layer 4","p":8.858},
      {"c":181,"s":"layer 4","p":8.862},{"c":182,"s":"layer 4","p":8.876},{"c":183,"s":"layer 4","p":8.866},{"c":184,"s":"layer 4","p":8.872},{"c":185,"s":"layer 4","p":8.859},{"c":186,"s":"layer 4","p":8.875},{"c":187,"s":"layer 4","p":8.869},{"c":188,"s":"layer 4","p":8.849},{"c":189,"s":"layer 4","p":8.864},{"c":190,"s":"layer 4","p":8.851},
      {"c":191,"s":"layer 4","p":8.860},{"c":192,"s":"layer 4","p":8.846}
    ]
  },
  "layer": [
    {
      "data": {"name": "pts"},
      "mark": {"type": "point", "filled": true, "opacity": 1, "size": 26},
      "encoding": {
        "x": {
          "field": "c", "type": "quantitative",
          "scale": {"domain": [-8, 201], "nice": false, "zero": false},
          "axis": {"values": [0, 50, 100, 150, 200], "tickSize": -5, "labelPadding": 9, "labelFontSize": 14, "labelFlush": false, "title": "column number", "titleFontSize": 16, "titleAnchor": "end", "titleAlign": "right", "titleX": 270, "titleY": 34, "titleBaseline": "alphabetic", "domainWidth": 1}
        },
        "y": {
          "field": "p", "type": "quantitative",
          "scale": {"domain": [8, 8.96], "nice": false, "zero": false},
          "axis": {"values": [8, 8.2, 8.4, 8.6, 8.8], "format": "~g", "tickSize": -8, "labelPadding": 11, "labelFontSize": 14, "title": "p₁ = v_eff/2  (cm/ns)", "titleFontSize": 15, "titleAngle": -90, "titleAlign": "right", "titleBaseline": "middle", "titleX": -42, "titleY": 0, "domainWidth": 1}
        },
        "color": {
          "field": "s", "type": "nominal",
          "scale": {"domain": ["layer 1", "layer 2", "layer 3", "layer 4"], "range": ["#000000", "#ff0000", "#00ff00", "#0000ff"]},
          "legend": {"title": null, "orient": "none", "legendX": 275, "legendY": -25, "strokeColor": "#000000", "fillColor": "#ffffff", "padding": 5, "rowPadding": 6, "labelFontSize": 14, "labelFont": "Liberation Sans", "labelColor": "#000000", "symbolSize": 12, "symbolOffset": 0, "labelOffset": -2, "symbolStrokeWidth": 0}
        },
        "shape": {
          "field": "s", "type": "nominal",
          "scale": {"domain": ["layer 1", "layer 2", "layer 3", "layer 4"], "range": ["circle", "square", "triangle-up", "triangle-down"]},
          "legend": {"title": null, "orient": "none", "legendX": 275, "legendY": -25, "strokeColor": "#000000", "fillColor": "#ffffff", "padding": 5, "rowPadding": 6, "labelFontSize": 14, "labelFont": "Liberation Sans", "labelColor": "#000000", "symbolSize": 12, "symbolOffset": 0, "labelOffset": -2, "symbolStrokeWidth": 0}
        }
      }
    },
    {
      "data": {"values": []},
      "mark": {"type": "point", "opacity": 0},
      "encoding": {
        "x": {"field": "c", "type": "quantitative", "axis": {"orient": "bottom", "values": [-0.0001, 10, 20, 30, 40, 60, 70, 80, 90, 110, 120, 130, 140, 160, 170, 180, 190], "tickSize": -3, "labels": false, "domain": false, "title": null}},
        "y": {"field": "p", "type": "quantitative", "axis": {"orient": "left", "values": [8.05, 8.1, 8.15, 8.25, 8.3, 8.35, 8.45, 8.5, 8.55, 8.65, 8.7, 8.75, 8.85, 8.9, 8.95], "tickSize": -4, "labels": false, "domain": false, "title": null}}
      }
    }
  ],
  "resolve": {"axis": {"x": "independent", "y": "independent"}}
}
